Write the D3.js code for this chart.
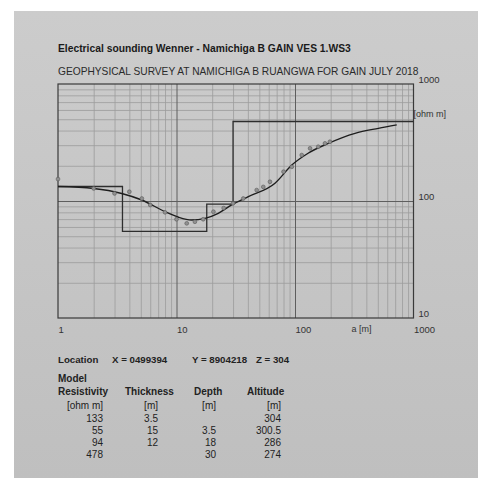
<!DOCTYPE html>
<html><head><meta charset="utf-8">
<script src="https://cdn.jsdelivr.net/npm/d3@7"></script>
<style>
html,body{margin:0;padding:0;background:#fff;}
svg{display:block;font-family:"Liberation Sans",Arial,sans-serif;}
</style></head>
<body>
<svg id="c" width="478" height="478"></svg>
<script>
// ---- data ----
const title = "Electrical sounding Wenner - Namichiga B GAIN VES 1.WS3";
const subtitle = "GEOPHYSICAL SURVEY AT NAMICHIGA B RUANGWA FOR GAIN JULY 2018";
const xTicks = [1, 10, 100, 1000];
const yTicks = [10, 100, 1000];
// measured apparent resistivity (a [m], rho [ohm m])
const measA   = [1, 2, 3, 4, 5.1, 6, 8, 10, 12.2, 14.3, 16.8, 20.5, 25, 30, 36.6, 47.5, 54, 61.5, 80, 94, 114, 134, 157, 179, 197];
const measRho = [154, 128, 116, 120, 105, 92.5, 80, 69.8, 64.4, 66.5, 69.8, 81, 87, 95.5, 105, 124, 132, 146, 178, 196, 247, 282, 291, 311, 321];
// model response curve
const curveA   = [1, 2, 3.45, 5.1, 8, 10.4, 13.4, 17.4, 22.5, 29.2, 40.4, 67.8, 94, 129, 191, 321, 505, 722];
const curveRho = [133, 128, 116, 102, 81, 72.6, 68.8, 71.1, 78.5, 92.5, 109, 142, 203, 256, 311, 379, 418, 447];
// layered model
const modelRes   = [133, 55, 94, 478];
const modelThick = [3.5, 15, 12];
const modelDepth = [3.5, 18, 30];
const modelAlt   = [304, 300.5, 286, 274];
const locX = "0499394", locY = "8904218", locZ = "304";

// ---- drawing ----
const svg = d3.select("#c");
const defs = svg.append("defs");
const g1 = defs.append("linearGradient").attr("id","paper").attr("x1",0).attr("y1",0).attr("x2",0).attr("y2",1);
g1.append("stop").attr("offset","0").attr("stop-color","#cccccc");
g1.append("stop").attr("offset","1").attr("stop-color","#bfbfbf");
svg.append("rect").attr("width",478).attr("height",478).attr("fill","#ffffff");
svg.append("rect").attr("x",14).attr("y",11).attr("width",464).attr("height",467).attr("fill","url(#paper)");

const L = 58, R = 413.5, T = 84, B = 318;
const x = d3.scaleLog().domain([1, 1000]).range([L, R]);
const y = d3.scaleLog().domain([10, 1000]).range([B, T]);

const minorX = [], minorY = [];
for (let d = 1; d < 1000; d *= 10) for (let k = 2; k <= 9; k++) minorX.push(d * k);
for (let d = 10; d < 1000; d *= 10) for (let k = 2; k <= 9; k++) minorY.push(d * k);

// minor grid
svg.append("g").attr("transform",`translate(0,${B})`)
  .call(d3.axisBottom(x).tickValues(minorX).tickSize(-(B-T)).tickFormat(""))
  .call(g => { g.select(".domain").remove(); g.selectAll("line").attr("stroke","#9c9c9c").attr("stroke-width",0.8); });
svg.append("g").attr("transform",`translate(${L},0)`)
  .call(d3.axisLeft(y).tickValues(minorY).tickSize(-(R-L)).tickFormat(""))
  .call(g => { g.select(".domain").remove(); g.selectAll("line").attr("stroke","#9c9c9c").attr("stroke-width",0.8); });
// major grid
svg.append("g").attr("transform",`translate(0,${B})`)
  .call(d3.axisBottom(x).tickValues([10,100]).tickSize(-(B-T)).tickFormat(""))
  .call(g => { g.select(".domain").remove(); g.selectAll("line").attr("stroke","#5e5e5e").attr("stroke-width",1); });
svg.append("g").attr("transform",`translate(${L},0)`)
  .call(d3.axisLeft(y).tickValues([100]).tickSize(-(R-L)).tickFormat(""))
  .call(g => { g.select(".domain").remove(); g.selectAll("line").attr("stroke","#5e5e5e").attr("stroke-width",1); });

// frame
svg.append("rect").attr("x",L).attr("y",T).attr("width",R-L).attr("height",B-T)
  .attr("fill","none").attr("stroke","#3a3a3a").attr("stroke-width",1.2);

// tick labels
svg.append("g").attr("transform",`translate(0,${B})`)
  .call(d3.axisBottom(x).tickValues(xTicks).tickSize(0).tickPadding(8).tickFormat(d3.format("d")))
  .call(g => { g.select(".domain").remove();
    g.selectAll("text").attr("text-anchor","start").attr("font-size",9.5).attr("fill","#333").attr("font-family","Liberation Sans, Arial"); });
svg.append("g").attr("transform",`translate(${R},0)`)
  .call(d3.axisRight(y).tickValues(yTicks).tickSize(0).tickPadding(5).tickFormat(d3.format("d")))
  .call(g => { g.select(".domain").remove();
    g.selectAll("text").attr("dy","-0.15em").attr("font-size",9.5).attr("fill","#333").attr("font-family","Liberation Sans, Arial"); });
svg.append("text").attr("x",R).attr("y",y(560)).attr("dy","0.35em").attr("font-size",9).attr("fill","#333").text("[ohm m]");
svg.append("text").attr("x",x(300)).attr("y",B+11).attr("dy","0.35em").attr("font-size",9).attr("fill","#333").text("a [m]");

// model step
const steps = [[1, modelRes[0]]];
modelDepth.forEach((d,i) => { steps.push([d, modelRes[i]]); steps.push([d, modelRes[i+1]]); });
steps.push([1000, modelRes[modelRes.length-1]]);
svg.append("path").datum(steps)
  .attr("d", d3.line().x(d=>x(d[0])).y(d=>y(d[1])))
  .attr("fill","none").attr("stroke","#2e2e2e").attr("stroke-width",1.3);

// curve
svg.append("path").datum(curveA.map((a,i)=>[a,curveRho[i]]))
  .attr("d", d3.line().x(d=>x(d[0])).y(d=>y(d[1])).curve(d3.curveMonotoneX))
  .attr("fill","none").attr("stroke","#1e1e1e").attr("stroke-width",1.4);

// points
svg.append("g").selectAll("circle").data(measA.map((a,i)=>[a,measRho[i]])).join("circle")
  .attr("cx",d=>x(d[0])).attr("cy",d=>y(d[1])).attr("r",1.9)
  .attr("fill","#909090").attr("stroke","#5a5a5a").attr("stroke-width",0.6);

// titles
svg.append("text").attr("x",58).attr("y",52).attr("font-size",10.3).attr("font-weight","bold").attr("fill","#1a1a1a").text(title);
svg.append("text").attr("x",58).attr("y",75).attr("font-size",10.2).attr("fill","#2a2a2a").text(subtitle);

// location
const loc = svg.append("text").attr("y",363).attr("font-size",9.7).attr("font-weight","bold").attr("fill","#222");
loc.append("tspan").attr("x",58).text("Location");
loc.append("tspan").attr("x",112).text(`X = ${locX}`);
loc.append("tspan").attr("x",192).text(`Y = ${locY}`);
loc.append("tspan").attr("x",256).text(`Z = ${locZ}`);

// model table
const hdr = svg.append("g").attr("font-size",10).attr("font-weight","bold").attr("fill","#222");
hdr.append("text").attr("x",58).attr("y",382).text("Model");
hdr.append("text").attr("x",58).attr("y",395).text("Resistivity");
hdr.append("text").attr("x",125).attr("y",395).text("Thickness");
hdr.append("text").attr("x",194).attr("y",395).text("Depth");
hdr.append("text").attr("x",247).attr("y",395).text("Altitude");

const colRight = [103, 158, 216, 281];
const tbl = svg.append("g").attr("font-size",10).attr("fill","#222").attr("text-anchor","end");
["[ohm m]","[m]","[m]","[m]"].forEach((u,i)=>tbl.append("text").attr("x",colRight[i]).attr("y",409).text(u));
const rowY = i => 421.5 + i*12.3;
modelRes.forEach((v,i)=>tbl.append("text").attr("x",colRight[0]).attr("y",rowY(i)).text(v));
modelThick.forEach((v,i)=>tbl.append("text").attr("x",colRight[1]).attr("y",rowY(i)).text(v));
modelDepth.forEach((v,i)=>tbl.append("text").attr("x",colRight[2]).attr("y",rowY(i+1)).text(v));
modelAlt.forEach((v,i)=>tbl.append("text").attr("x",colRight[3]).attr("y",rowY(i)).text(v));
</script>
</body></html>
